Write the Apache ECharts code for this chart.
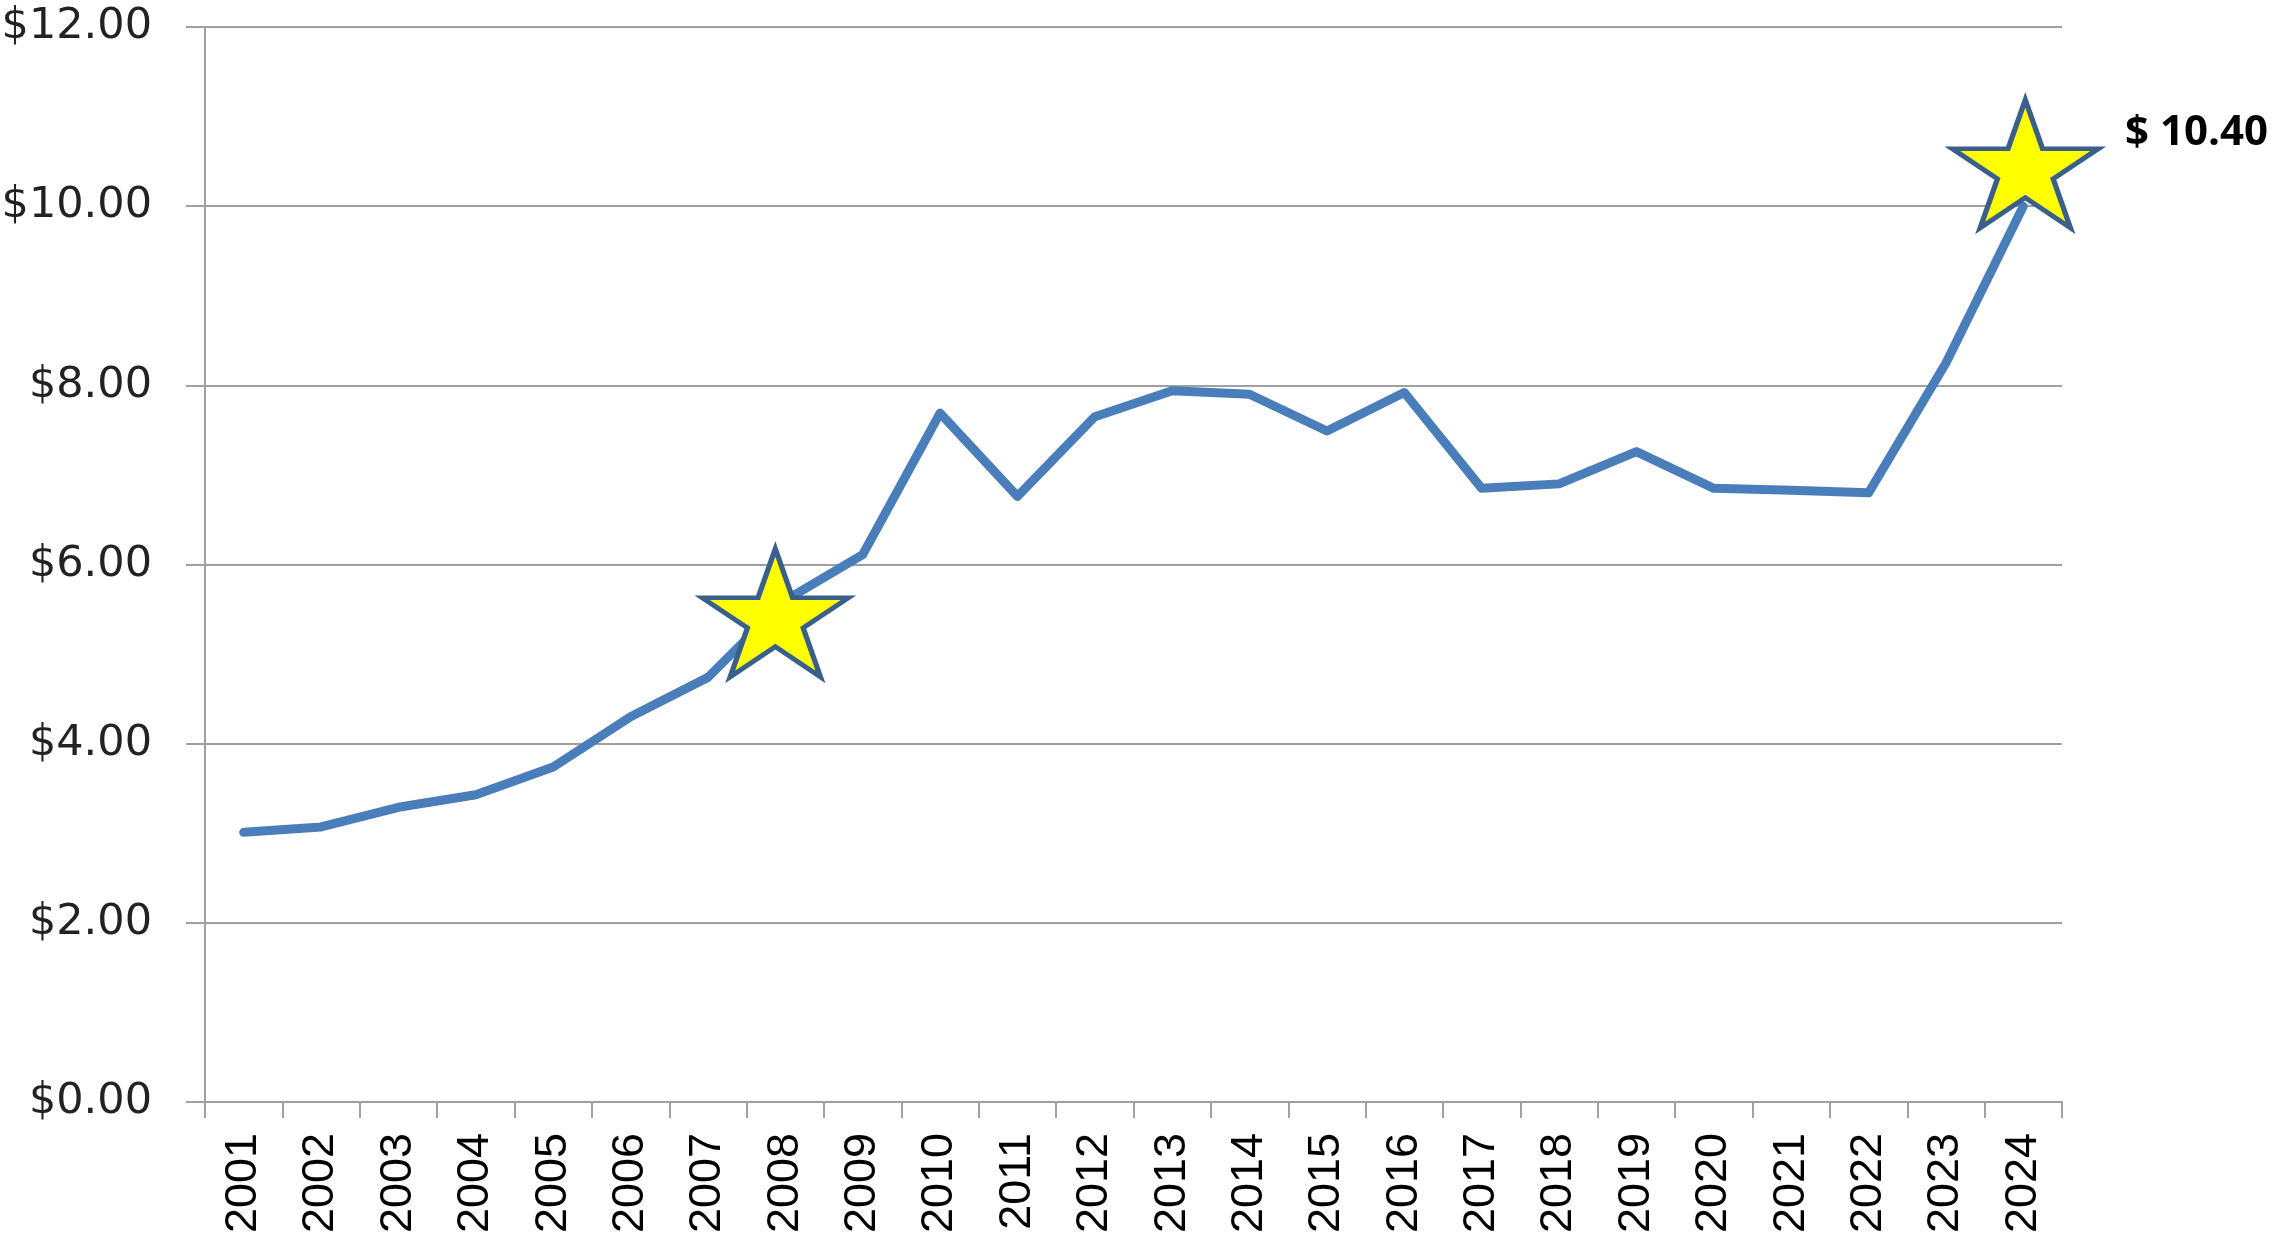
<!DOCTYPE html>
<html>
<head>
<meta charset="utf-8">
<script src="https://cdn.jsdelivr.net/npm/echarts@6/dist/echarts.min.js"></script>
<style>
html,body{margin:0;padding:0;background:#fff;}
#chart{width:2279px;height:1241px;}
</style>
</head>
<body>
<div id="chart"></div>
<script>
const years = ['2001','2002','2003','2004','2005','2006','2007','2008','2009','2010','2011','2012','2013','2014','2015','2016','2017','2018','2019','2020','2021','2022','2023','2024'];
const prices = [3.01,3.07,3.29,3.43,3.74,4.30,4.74,5.60,6.11,7.69,6.76,7.65,7.94,7.90,7.49,7.92,6.85,6.90,7.26,6.85,6.83,6.80,8.25,10.00];
const starYears = ['2008','2024'];
const starValues = [5.46,10.40];
const starLabelled = [false,true];
const yTicks = [0,2,4,6,8,10,12];

const STAR = 'path://M951,0 L1175.5,691 L1902,691 L1314,1118 L1539,1809 L951,1382 L363,1809 L588,1118 L0,691 L726.5,691 Z';
const starOffsets = [[-10,0],[2,-6.5]];

const chart = echarts.init(document.getElementById('chart'), null, {renderer:'canvas'});
const grey = '#a0a0a0';
chart.setOption({
  animation:false,
  backgroundColor:'#ffffff',
  grid:{left:205,right:217,top:27,bottom:139,containLabel:false,outerBoundsMode:'none'},
  xAxis:{
    type:'category',
    data:years,
    boundaryGap:true,
    axisLine:{show:true,lineStyle:{color:grey,width:2}},
    axisTick:{show:true,length:16,lineStyle:{color:grey,width:2},alignWithLabel:false,interval:0},
    axisLabel:{rotate:90,margin:31,interval:0,color:'#000',fontSize:45,fontFamily:"'Liberation Sans',Arial,sans-serif"},
    splitLine:{show:false}
  },
  yAxis:{
    type:'value',
    min:yTicks[0],max:yTicks[yTicks.length-1],interval:2,
    axisLine:{show:true,lineStyle:{color:grey,width:2}},
    axisTick:{show:true,length:19,lineStyle:{color:grey,width:2}},
    axisLabel:{margin:53,color:'#222',fontSize:43,fontFamily:"'DejaVu Sans',sans-serif",formatter:v=>'$'+v.toFixed(2)},
    splitLine:{show:true,lineStyle:{color:grey,width:2}}
  },
  series:[
    {
      type:'line',
      data:prices,
      symbol:'none',
      smooth:false,
      lineStyle:{color:'#4a7ebb',width:9,cap:'round',join:'round'},
      z:2
    },
    {
      type:'scatter',
      data:starYears.map((y,i)=>({
        value:[y,starValues[i]],
        symbolOffset:starOffsets[i],
        label:{show:starLabelled[i]}
      })),
      symbol:STAR,
      symbolSize:[146,128],
      itemStyle:{color:'#ffff00',borderColor:'#3a5f8b',borderWidth:5,borderJoin:'miter',borderMiterLimit:10,opacity:1},
      label:{
        position:'right',distance:24,offset:[0,-31],
        color:'#000',fontSize:42,fontWeight:'bold',fontFamily:"'Open Sans',sans-serif",
        formatter:p=>'$ '+p.value[1].toFixed(2)
      },
      z:3
    }
  ]
});
</script>
</body>
</html>
